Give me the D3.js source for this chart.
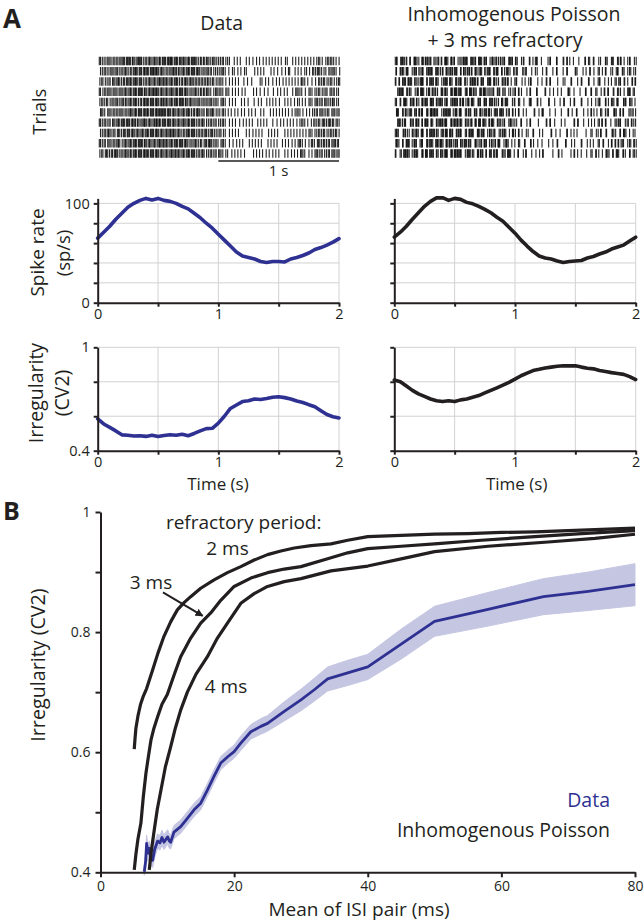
<!DOCTYPE html>
<html><head><meta charset="utf-8">
<script src="https://cdn.jsdelivr.net/npm/d3@7"></script>
<style>
body{margin:0;background:#fff}
svg{display:block}
text{font-family:"Open Sans",sans-serif;fill:#231f20}
</style>
</head><body>
<svg id="c" width="644" height="921"></svg>
<script>
// ---------------- DATA ----------------
const timePoints = [0,0.05,0.1,0.15,0.2,0.25,0.3,0.35,0.4,0.45,0.5,0.55,0.6,0.65,0.7,0.75,0.8,0.85,0.9,0.95,1.0,
  1.05,1.1,1.15,1.2,1.25,1.3,1.35,1.4,1.45,1.5,1.55,1.6,1.65,1.7,1.75,1.8,1.85,1.9,1.95,2.0];
const rateData = [65,71,77,84,90,96,100,103,105,103.5,105,103,102,100,97,94.5,90,85.5,80,75,69,
  63,57,51,47,45.5,44,41.5,40.5,41.5,41.5,41,44,45.5,47.5,50,53.5,55.5,58,61,64.5];
const ratePoisson = [66,71,77,84,90.5,97,102,105.5,105.7,103,105,104,101,99.5,97,94,90.5,86,82,76,70,
  63,57,51.5,47,45,44,42,40.5,41.5,42,42.5,45,46.5,49,51,54,56,58,62,66];
const cvData = [0.585,0.555,0.535,0.515,0.492,0.49,0.485,0.487,0.483,0.49,0.482,0.488,0.493,0.49,0.495,0.487,0.5,0.515,0.528,0.53,0.56,
  0.6,0.645,0.665,0.685,0.69,0.7,0.697,0.703,0.71,0.713,0.708,0.7,0.688,0.68,0.667,0.655,0.632,0.61,0.597,0.59];
const cvPoisson = [0.81,0.8,0.775,0.75,0.73,0.715,0.7,0.69,0.685,0.69,0.685,0.695,0.7,0.71,0.72,0.735,0.75,0.765,0.78,0.797,0.815,
  0.835,0.85,0.865,0.872,0.88,0.885,0.89,0.893,0.892,0.893,0.885,0.878,0.875,0.865,0.86,0.853,0.848,0.843,0.83,0.813];

const timeTicks = [0,0.5,1,1.5,2];
const timeTickLabels = ["0","","1","","2"];
const rateTicks = [0,20,40,60,80,100];
const rateTickLabels = ["0","","","","","100"];
const cvTicks = [0.4,0.6,0.8,1];
const cvTickLabels = ["0.4","","","1"];

// spike rasters: each hex digit = 4 bins of 5 ms (MSB first), 100 digits = 2 s
const binSec = 0.005;
const rasterData = [
 "a492a4a52a a5a9a55a4a 5a5a9a5a5b a5a55a9a5a a4a52a4a92 4a24808420 0841042084 2108420480 4210842108 4a2094a442",
 "24a4952a4a 5a4a5a9a5a a5b5a5a4a5 5a9a5a5a5a 5a4a54a249 2a41048210 4800210840 0420810428 0421048429 2a44852a41",
 "4a24a2a5a4 a55a5a9a4a 5a5a5ab5a5 a5a4a5a5a9 4a529a4a24 a420842100 8204001208 4082104210 8421a42041 0a4a24a225",
 "a252a4a92a 5a5a5a5a9a 5ab5a5a5a5 a9a5a5a4a5 a4a52a4254 a429042104 2000841020 8040841080 42a4820a42 4a24a14a24",
 "4a4a252a4a 9a5a5a4a5a a5a5a5b5a5 a5a5a9a5a5 2a4a52a4a4 2a40842008 4100408402 1084100842 0848420a42 a4a2a49a24",
 "2a42a4a52a 4a5a9a5a55 a5a5ab5a5a 5a5a5a5a4a 5a4a2a5a24 8a42104208 4084100840 0842108420 84a4208424 a2a4942a4a",
 "a4a4a2a5a5 a5a5a9a55a 5a5b5a5a5a 5a5a5a9a5a 4a5a24a4a2 4a40842041 0842010842 0081042084 2084a4208a 4a2a4a9452",
 "24a5a4a2a4 a9a5a5a5a5 a5a5a5a5ab 5a5a4a5a5a 4a52a4a924 a240842100 0841084200 4210800842 1084210a42 4a4a24a4a2",
 "a4a2a4a5a2 5a5a5a5a9a 5a5a5ab5a5 a5a5a5a4a5 a4a2a5a4a4 2a40820842 0042108400 8421008420 842a4208a4 2a4a4a2a94",
 "4a2a4a5a4a 5a9a5a5a5a a5a5a5a5a5 ab5a5a5a5a 4a5a24a4a2 a424084210 4000842104 2084200841 0842a40842 a4a24a2a4a"
];
const rasterPoisson = [
 "b06d30c1e9 0d36b0a58c 3d0e6094db 06ac3d1b04 e5932c0d61 a04c0308b0 2004c01803 0c41008030 a0c0480d02 c0a6104c09",
 "60da3c09b1 4e0b6c1a93 0d5b2e0c69 b30e4d0a6c 19e0c4b20a 6014c02090 0830041802 0c00340108 3040a10c04 82c0d04a12",
 "c30b46d0a9 3e0c6b1d04 b63a0e5c19 0db4c3a06e 1c906b3082 c02104c008 1030c00402 4018020c00 c040b01042 0a2c1840c6",
 "0b6c19a04e 3d09c6b20e 5a0d3e6c0b 1e6a0d3c94 b06c2a0913 0c40218030 00c0820410 0340802018 0c0a0430c0 60a4106c28",
 "a0c3d06b19 0e6c3b0d5a 2e0b6d19c4 e3a06c1d0b 4c90e3a026 0a0402c018 4003008041 8020c00c01 0408b00c42 a1c0360a84",
 "3c0a64d0b1 9c0e3d6a04 d6b09e3c0a 6c1b0e4d39 0ac6d09431 0c08400302 1c00804010 03040c0081 0c420a0940 3a0c6014a2",
 "0d49c06a3b 0c6e1a0d5b 3c0e6b9a0d 4b0e3c6a19 d06a4c0b92 40c0218004 0030c08010 4000c30080 8420a30c04 0a6c04a192",
 "b406c90d3a 1e0c6b4d0a 9e3b06dc0a 36c0e9b04d 2c0a6d0439 0c20480c01 0800302040 0c10840008 0a048c0601 a40c3a0824",
 "6a0c3b09d0 5c0e6a1b3d 0e6c9b0d3a 6c0e4b1d09 a63c09d042 0a0300c408 1002040c00 3008400c02 1080a0c043 0c62a04a19",
 "c0a36d09b4 0e3c6b0d1a 5e0d3b6c09 d4a0e6c30b 19c06a3d04 1808c02041 0c00040308 0010c20804 0a0c4106a0 c3a0640c29"
];

// Panel B
const isi2 = [5.05,5.15,5.3,5.6,6.0,6.4,6.9,7.8,8.6,9.5,10.5,11.5,12.5,13.5,15,17,19,21,23,25,27,29,31.5,34.5,37,40,45,50,55,60,65,70,75,80];
const cv2ms = [0.605,0.62,0.64,0.66,0.68,0.693,0.706,0.737,0.765,0.793,0.817,0.837,0.849,0.859,0.873,0.887,0.899,0.909,0.92,0.929,0.935,0.94,0.944,0.947,0.953,0.959,0.961,0.963,0.964,0.966,0.967,0.969,0.971,0.973];
const isi3 = [5.05,5.3,5.6,6.05,6.4,6.8,7.2,7.55,8.0,8.55,9.2,10.0,11.0,12.0,13.5,15.0,16.5,18,20,22.5,25,27.5,30,34,37,40,45,50,57,65,72,80];
const cv3ms = [0.404,0.43,0.455,0.482,0.525,0.565,0.595,0.62,0.64,0.659,0.68,0.696,0.728,0.759,0.79,0.815,0.832,0.853,0.876,0.89,0.899,0.905,0.909,0.922,0.932,0.939,0.943,0.947,0.953,0.959,0.964,0.969];
const isi4 = [7.3,7.6,8.05,8.5,9.05,9.7,10.5,11.2,12.0,13.0,14.3,16.0,17.5,19.0,21.0,23,25,27.5,30,34.5,40,45,50,58,67,74,80];
const cv4ms = [0.404,0.435,0.471,0.505,0.537,0.575,0.609,0.64,0.67,0.7,0.73,0.759,0.79,0.815,0.848,0.864,0.876,0.884,0.889,0.902,0.91,0.922,0.934,0.943,0.95,0.956,0.963];
const isiData = [6.55,6.75,6.9,7.1,7.3,7.5,7.8,8.1,8.55,8.9,9.2,9.5,9.8,10.05,10.3,10.5,11.0,12.0,13.0,14.0,15.0,16.0,17.0,18.0,19.0,20.0,21.0,22.5,24.0,25.0,27.5,30.0,32.0,34.0,37.0,40.0,45.0,50.0,58.0,66.3,73.0,80.0];
const cvDataB = [0.401,0.418,0.448,0.432,0.44,0.425,0.42,0.438,0.452,0.449,0.458,0.45,0.455,0.459,0.452,0.45,0.467,0.476,0.49,0.504,0.515,0.537,0.56,0.582,0.592,0.601,0.615,0.634,0.643,0.648,0.668,0.687,0.704,0.722,0.732,0.742,0.78,0.818,0.838,0.859,0.868,0.879];
const cvDataLo = [0.395,0.405,0.432,0.418,0.427,0.412,0.408,0.424,0.44,0.437,0.445,0.438,0.443,0.447,0.44,0.439,0.456,0.465,0.479,0.493,0.504,0.526,0.549,0.571,0.581,0.59,0.603,0.622,0.63,0.635,0.652,0.669,0.685,0.702,0.711,0.721,0.755,0.793,0.81,0.829,0.836,0.844];
const cvDataHi = [0.407,0.43,0.462,0.446,0.452,0.438,0.433,0.451,0.464,0.461,0.47,0.462,0.467,0.471,0.464,0.462,0.478,0.487,0.501,0.515,0.526,0.548,0.571,0.593,0.603,0.612,0.627,0.646,0.656,0.661,0.684,0.705,0.723,0.742,0.753,0.763,0.805,0.843,0.866,0.889,0.9,0.914];
const isiTicks = [0,20,40,60,80];
const cvBTicks = [0.4,0.5,0.6,0.7,0.8,0.9,1];
const cvBTickLabels = ["0.4","","0.6","","0.8","","1"];

// ---------------- DRAW ----------------
const INK = "#231f20", BLUE = "#2e3192", GRID = "#d2d2d2", BAND = "#c5c6e2";
const svg = d3.select("#c");

function txt(x, y, s, opt = {}) {
  const t = svg.append("text").attr("x", x).attr("y", y).text(s)
    .attr("font-size", opt.size || 17)
    .attr("text-anchor", opt.anchor || "middle");
  if (opt.weight) t.attr("font-weight", opt.weight);
  if (opt.fill) t.style("fill", opt.fill);
  if (opt.rot) t.attr("transform", `rotate(-90,${x},${y})`);
  return t;
}

function styleAxis(g, w) {
  g.select(".domain").attr("stroke", INK).attr("stroke-width", w);
  g.selectAll(".tick line").attr("stroke", INK).attr("stroke-width", w);
  g.selectAll(".tick text").style("fill", INK).attr("font-family", "'Open Sans',sans-serif");
}

function timePanel(x0, x1, yBot, yTop, yDom, yTicks, yLabels, showY, values, color) {
  const x = d3.scaleLinear().domain([0, 2]).range([x0, x1]);
  const y = d3.scaleLinear().domain(yDom).range([yBot, yTop]);
  const topTick = yTicks[yTicks.length - 1];
  const g = svg.append("g");
  g.selectAll("line.h").data(yTicks.slice(1)).join("line")
    .attr("x1", x0).attr("x2", x1).attr("y1", d => y(d)).attr("y2", d => y(d))
    .attr("stroke", GRID).attr("stroke-width", 1);
  g.selectAll("line.v").data(timeTicks.slice(1)).join("line")
    .attr("x1", d => x(d)).attr("x2", d => x(d)).attr("y1", y(yDom[0])).attr("y2", y(topTick))
    .attr("stroke", GRID).attr("stroke-width", 1);
  g.append("path").datum(values)
    .attr("d", d3.line().x((d, i) => x(timePoints[i])).y(d => y(d)))
    .attr("fill", "none").attr("stroke", color).attr("stroke-width", 3.6)
    .attr("stroke-linejoin", "round").attr("stroke-linecap", "round");
  const xa = svg.append("g").attr("transform", `translate(0,${y(yDom[0])})`)
    .call(d3.axisBottom(x).tickValues(timeTicks).tickSize(4).tickSizeOuter(0).tickPadding(2)
      .tickFormat((d, i) => timeTickLabels[i]));
  xa.selectAll(".tick text").attr("font-size", 14.5);
  styleAxis(xa, 2);
  const ya = svg.append("g").attr("transform", `translate(${x0},0)`)
    .call(d3.axisLeft(y).tickValues(yTicks).tickSize(4).tickSizeOuter(0).tickPadding(4)
      .tickFormat((d, i) => showY ? yLabels[i] : ""));
  ya.selectAll(".tick text").attr("font-size", 14.5);
  styleAxis(ya, 2);
  return x;
}

// Panel A geometry
const leftX = [97.7, 339], rightX = [394.3, 635.7];
const xL = timePanel(leftX[0], leftX[1], 302.7, 198.4, [0, 105], rateTicks, rateTickLabels, true, rateData, BLUE);
timePanel(rightX[0], rightX[1], 302.7, 198.4, [0, 105], rateTicks, rateTickLabels, false, ratePoisson, INK);
timePanel(leftX[0], leftX[1], 450.7, 347.3, [0.4, 1], cvTicks, cvTickLabels, true, cvData, BLUE);
timePanel(rightX[0], rightX[1], 450.7, 347.3, [0.4, 1], cvTicks, cvTickLabels, false, cvPoisson, INK);

// rasters
const rowY = d3.scaleBand().domain(d3.range(10)).range([56.7, 157.7]).paddingInner(0.18);
function drawRaster(rows, xr) {
  const x = d3.scaleLinear().domain([0, 2]).range(xr);
  const g = svg.append("g");
  rows.forEach((str, ri) => {
    const s = str.replace(/ /g, "");
    const times = [];
    for (let c = 0; c < s.length; c++) {
      const v = parseInt(s[c], 16);
      for (let b = 0; b < 4; b++) if (v & (8 >> b)) times.push((c * 4 + b + 0.5) * binSec);
    }
    g.append("g").selectAll("line").data(times).join("line")
      .attr("x1", d => x(d)).attr("x2", d => x(d))
      .attr("y1", rowY(ri)).attr("y2", rowY(ri) + rowY.bandwidth())
      .attr("stroke", "#0a0a0a").attr("stroke-width", 1.1).attr("stroke-opacity", 0.9);
  });
}
drawRaster(rasterData, [99, 340]);
drawRaster(rasterPoisson, [395, 636.5]);

// scale bar 1 s
svg.append("line").attr("x1", xL(1)).attr("x2", xL(2)).attr("y1", 161).attr("y2", 161)
  .attr("stroke", INK).attr("stroke-width", 1.6);
txt((xL(1) + xL(2)) / 2, 176, "1 s", {size: 15});

// titles and labels panel A
txt(3, 28, "A", {size: 26, weight: "bold", anchor: "start"});
txt(221.7, 30, "Data", {size: 19.5});
txt(514, 20.6, "Inhomogenous Poisson", {size: 19.5});
txt(505, 47.3, "+ 3 ms refractory", {size: 19.5});
txt(46.5, 111.7, "Trials", {size: 18.5, rot: true});
txt(44, 252.5, "Spike rate", {size: 19, rot: true});
txt(70, 253, "(sp/s)", {size: 18.5, rot: true});
txt(43, 393, "Irregularity", {size: 19.5, rot: true});
txt(69, 393, "(CV2)", {size: 19.5, rot: true});
txt(218, 490, "Time (s)", {size: 17});
txt(516.7, 490, "Time (s)", {size: 17});

// ---------------- Panel B ----------------
const xB = d3.scaleLinear().domain([0, 80]).range([100.5, 635]);
const yB = d3.scaleLinear().domain([0.4, 1]).range([872.3, 512]);
const gB = svg.append("g");
const band = isiData.map((v, i) => ({x: v, lo: cvDataLo[i], hi: cvDataHi[i]}));
gB.append("path").datum(band)
  .attr("d", d3.area().x(d => xB(d.x)).y0(d => yB(d.lo)).y1(d => yB(d.hi)))
  .attr("fill", BAND).attr("stroke", BAND).attr("stroke-width", 1);
function bLine(xs, ys, color, w) {
  gB.append("path").datum(xs.map((v, i) => [v, ys[i]]))
    .attr("d", d3.line().x(d => xB(d[0])).y(d => yB(d[1])))
    .attr("fill", "none").attr("stroke", color).attr("stroke-width", w)
    .attr("stroke-linejoin", "round");
}
bLine(isiData, cvDataB, BLUE, 2.8);
bLine(isi2, cv2ms, INK, 3.2);
bLine(isi3, cv3ms, INK, 3.2);
bLine(isi4, cv4ms, INK, 3.2);

const xaB = svg.append("g").attr("transform", `translate(0,${yB(0.4)})`)
  .call(d3.axisBottom(xB).tickValues(isiTicks).tickSize(5).tickSizeOuter(0).tickPadding(4));
xaB.selectAll(".tick text").attr("font-size", 14);
styleAxis(xaB, 2);
const yaB = svg.append("g").attr("transform", `translate(${xB(0)},0)`)
  .call(d3.axisLeft(yB).tickValues(cvBTicks).tickSize(5).tickSizeOuter(0).tickPadding(5)
    .tickFormat((d, i) => cvBTickLabels[i]));
yaB.selectAll(".tick text").attr("font-size", 14);
styleAxis(yaB, 2);

// annotations
svg.append("defs").append("marker").attr("id", "arr").attr("viewBox", "0 0 10 10")
  .attr("refX", 9).attr("refY", 5).attr("markerWidth", 4).attr("markerHeight", 4)
  .attr("orient", "auto").append("path").attr("d", "M0,0L10,5L0,10z").attr("fill", INK);
const arrowFrom = [9.35, 0.866], arrowTo = [15.3, 0.827];
svg.append("line")
  .attr("x1", xB(arrowFrom[0])).attr("y1", yB(arrowFrom[1]))
  .attr("x2", xB(arrowTo[0])).attr("y2", yB(arrowTo[1]))
  .attr("stroke", INK).attr("stroke-width", 2).attr("marker-end", "url(#arr)");

txt(3, 520, "B", {size: 25, weight: "bold", anchor: "start"});
txt(243.7, 528.5, "refractory period:", {size: 19});
txt(227.5, 554.6, "2 ms", {size: 19});
txt(151, 589, "3 ms", {size: 19});
txt(226, 692.5, "4 ms", {size: 19});
txt(610, 806.5, "Data", {size: 19.5, anchor: "end", fill: BLUE});
txt(610, 836.5, "Inhomogenous Poisson", {size: 19.5, anchor: "end"});
txt(359, 916, "Mean of ISI pair (ms)", {size: 19});
txt(45, 665, "Irregularity (CV2)", {size: 19.7, rot: true});
</script>
</body></html>
